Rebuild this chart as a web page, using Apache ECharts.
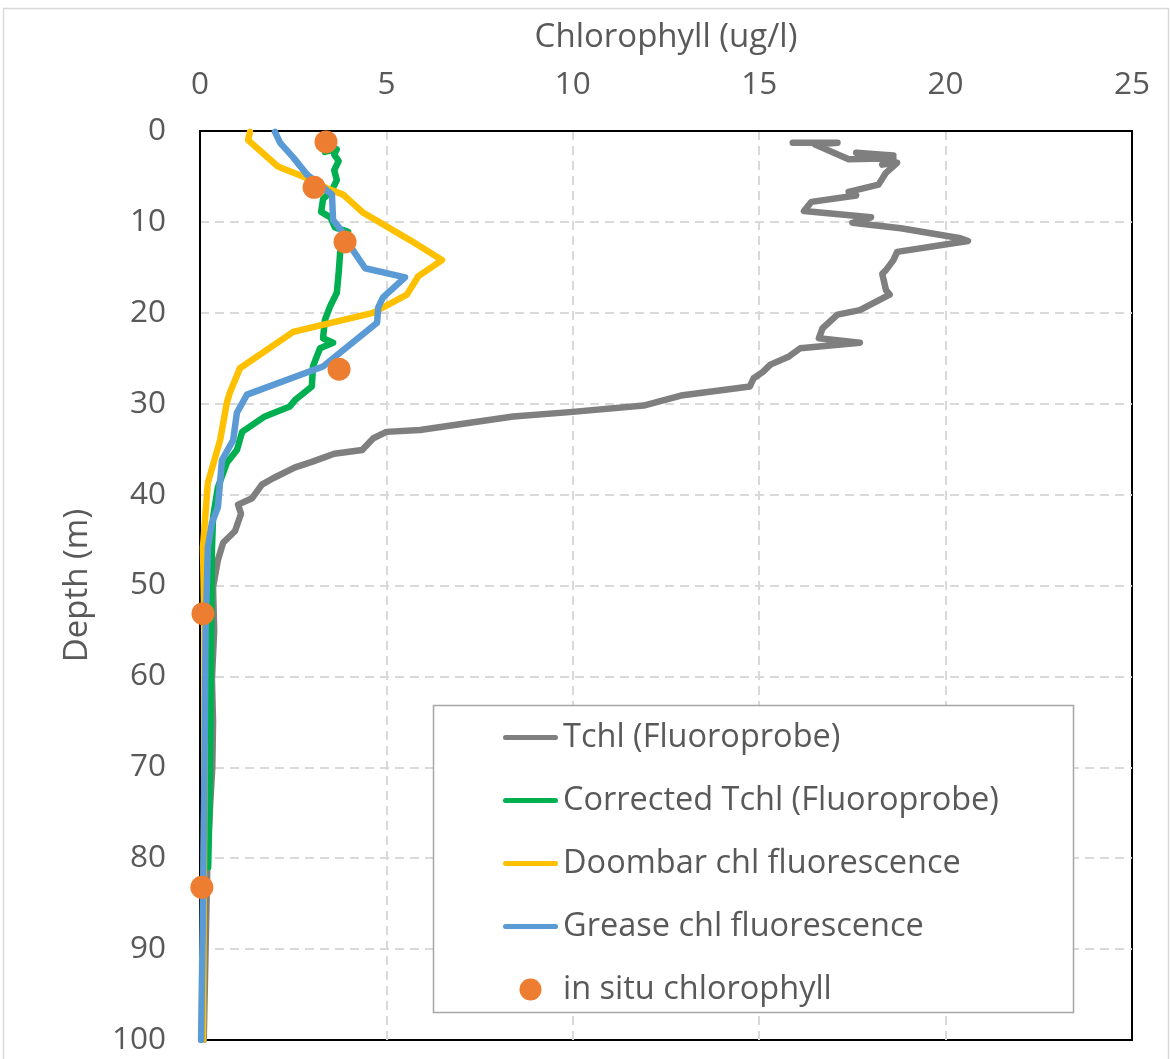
<!DOCTYPE html>
<html>
<head>
<meta charset="utf-8">
<script src="https://cdn.jsdelivr.net/npm/echarts@6/dist/echarts.min.js"></script>
<style>
html,body{margin:0;padding:0;background:#fff;}
#chart{width:1170px;height:1059px;}
</style>
</head>
<body>
<div id="chart"></div>
<script>
// ---- Data (depth in m, chlorophyll in ug/l) ----
const xTicks = [0, 5, 10, 15, 20, 25];
const yTicks = [0, 10, 20, 30, 40, 50, 60, 70, 80, 90, 100];

const seriesNames = ["Tchl (Fluoroprobe)", "Corrected Tchl (Fluoroprobe)", "Doombar chl fluorescence", "Grease chl fluorescence", "in situ chlorophyll"];

const tchlDepth = [1.3, 1.3, 1.5, 3.1, 3.0, 2.4, 2.7, 3.7, 3.5, 4.6, 5.9, 6.7, 7.1, 7.8, 8.8, 9.5, 10.1, 10.7, 11.8, 12.1, 13.3, 14.2, 15.3, 15.7, 17.5, 18.0, 19.7, 20.2, 21.7, 22.8, 23.3, 23.9, 24.8, 25.7, 26.5, 27.2, 28.1, 29.1, 30.2, 30.9, 31.4, 32.9, 33.1, 33.8, 35.1, 35.5, 36.4, 37.0, 38.2, 38.9, 40.4, 41.1, 42.1, 44.0, 45.3, 47.2, 50.2, 55.0, 60.3, 65.0, 70.0, 74.3, 80.0, 90.0, 100.0];
const tchlValue = [15.9, 17.1, 16.5, 17.4, 18.6, 17.6, 18.6, 18.3, 18.7, 18.4, 18.2, 17.4, 17.6, 16.4, 16.2, 18.0, 17.5, 18.8, 20.4, 20.6, 18.7, 18.6, 18.4, 18.3, 18.4, 18.5, 17.7, 17.1, 16.7, 16.6, 17.7, 16.1, 15.8, 15.3, 15.1, 14.85, 14.75, 12.9, 11.9, 10.0, 8.4, 5.9, 5.0, 4.65, 4.35, 3.6, 3.0, 2.55, 1.96, 1.66, 1.4, 1.02, 1.1, 0.94, 0.62, 0.48, 0.35, 0.38, 0.32, 0.35, 0.33, 0.27, 0.2, 0.15, 0.1];

const corrDepth = [2.3, 2.0, 2.6, 3.3, 4.3, 5.4, 6.5, 7.5, 8.9, 9.5, 10.6, 11.1, 13.3, 15.6, 17.8, 19.3, 20.8, 22.8, 23.3, 23.9, 25.9, 28.1, 29.6, 30.3, 31.4, 33.1, 35.1, 36.5, 39.2, 42.5, 46.1, 55.0, 65.0, 75.0, 81.0];
const corrValue = [3.35, 3.67, 3.6, 3.72, 3.6, 3.67, 3.54, 3.3, 3.25, 3.5, 3.62, 3.97, 3.76, 3.72, 3.67, 3.49, 3.35, 3.3, 3.57, 3.22, 3.03, 3.0, 2.55, 2.41, 1.74, 1.13, 0.99, 0.72, 0.48, 0.35, 0.32, 0.3, 0.28, 0.25, 0.22];

const doomDepth = [0.1, 1.0, 3.9, 5.0, 6.3, 7.0, 9.0, 12.0, 14.2, 16.0, 18.0, 20.0, 22.1, 26.1, 28.8, 29.9, 34.0, 38.7, 45.8, 55.0, 70.0, 85.0, 100.0];
const doomValue = [1.34, 1.29, 2.09, 2.76, 3.4, 3.84, 4.38, 5.63, 6.49, 5.85, 5.55, 4.64, 2.5, 1.07, 0.8, 0.72, 0.54, 0.21, 0.08, 0.12, 0.12, 0.1, 0.08];

const greaseDepth = [0.1, 1.3, 2.9, 4.8, 7.0, 9.8, 11.2, 13.1, 15.1, 16.1, 18.3, 19.4, 21.1, 25.9, 29.0, 31.0, 34.0, 36.2, 41.4, 43.1, 45.8, 55.0, 70.0, 85.0, 100.0];
const greaseValue = [2.01, 2.15, 2.5, 2.87, 3.54, 3.57, 3.84, 4.1, 4.43, 5.5, 4.91, 4.78, 4.75, 3.3, 1.26, 0.99, 0.89, 0.59, 0.48, 0.32, 0.21, 0.15, 0.12, 0.08, 0.03];

const insituDepth = [1.2, 6.2, 12.2, 26.2, 53.1, 83.2];
const insituValue = [3.38, 3.06, 3.89, 3.73, 0.08, 0.05];

const colors = ["#7f7f7f", "#00b050", "#ffc000", "#5b9bd5", "#ed7d31"];

function pairs(vals, depths) { return vals.map((v, i) => [v, depths[i]]); }

const chart = echarts.init(document.getElementById('chart'), null, {renderer: 'canvas'});
const FONT = '"Open Sans", "Noto Sans", sans-serif';
const TXT = '#595959';
const LINE_ICON = 'path://M2.5,0 L52.5,0 A2.5,2.5 0 0 1 52.5,5 L2.5,5 A2.5,2.5 0 0 1 2.5,0 Z';
const LINE_W = 6.5;

function lineSeries(idx, vals, depths) {
  return {
    name: seriesNames[idx],
    type: 'line',
    data: pairs(vals, depths),
    symbol: 'none',
    showSymbol: false,
    smooth: false,
    z: 2 + idx,
    lineStyle: {color: colors[idx], width: LINE_W, cap: 'round', join: 'round'},
    emphasis: {disabled: true},
    itemStyle: {color: colors[idx]}
  };
}

const split = {show: true, showMinLine: false, showMaxLine: false, lineStyle: {color: '#d9d9d9', width: 2, type: [9, 6]}};

const option = {
  backgroundColor: '#fff',
  animation: false,
  textStyle: {fontFamily: FONT},
  grid: {left: 200, top: 131, right: 38, bottom: 19, show: true, borderColor: '#000', borderWidth: 2},
  xAxis: {
    type: 'value', position: 'top', min: xTicks[0], max: xTicks[xTicks.length - 1], interval: 5,
    name: 'Chlorophyll (ug/l)', nameLocation: 'middle', nameGap: 77,
    nameTextStyle: {fontSize: 33, color: TXT, fontFamily: FONT},
    axisLine: {show: true, lineStyle: {color: '#000', width: 2}},
    axisTick: {show: false},
    axisLabel: {fontSize: 31.5, color: TXT, margin: 30, fontFamily: FONT},
    splitLine: split
  },
  yAxis: {
    type: 'value', inverse: true, min: yTicks[0], max: yTicks[yTicks.length - 1], interval: 10,
    name: 'Depth (m)', nameLocation: 'middle', nameGap: 106, nameRotate: 90,
    nameTextStyle: {fontSize: 33, color: TXT, fontFamily: FONT},
    axisLine: {show: true, lineStyle: {color: '#000', width: 2}},
    axisTick: {show: false},
    axisLabel: {fontSize: 31.5, color: TXT, margin: 34, fontFamily: FONT},
    splitLine: split
  },
  legend: {
    orient: 'vertical', left: 503, top: 721, z: 100, padding: 0,
    itemWidth: 55, itemHeight: 22, itemGap: 30,
    textStyle: {fontSize: 32.5, color: TXT, fontFamily: FONT, lineHeight: 32},
    data: [
      {name: seriesNames[0], icon: LINE_ICON},
      {name: seriesNames[1], icon: LINE_ICON},
      {name: seriesNames[2], icon: LINE_ICON},
      {name: seriesNames[3], icon: LINE_ICON},
      {name: seriesNames[4], icon: 'circle'}
    ]
  },
  graphic: [
    {type: 'rect', shape: {x: 3.5, y: 8.5, width: 1165, height: 1060}, style: {fill: 'none', stroke: '#d9d9d9', lineWidth: 1.5}, z: -10, silent: true},
    {type: 'rect', shape: {x: 433.5, y: 705.5, width: 640, height: 307}, style: {fill: '#fff', stroke: '#a6a6a6', lineWidth: 1.5}, z: 20, silent: true}
  ],
  series: [
    lineSeries(0, tchlValue, tchlDepth),
    lineSeries(1, corrValue, corrDepth),
    lineSeries(2, doomValue, doomDepth),
    lineSeries(3, greaseValue, greaseDepth),
    {
      name: seriesNames[4], type: 'scatter', data: pairs(insituValue, insituDepth),
      symbol: 'circle', symbolSize: 23, z: 10,
      itemStyle: {color: colors[4], opacity: 1}
    }
  ]
};
chart.setOption(option);
</script>
</body>
</html>
